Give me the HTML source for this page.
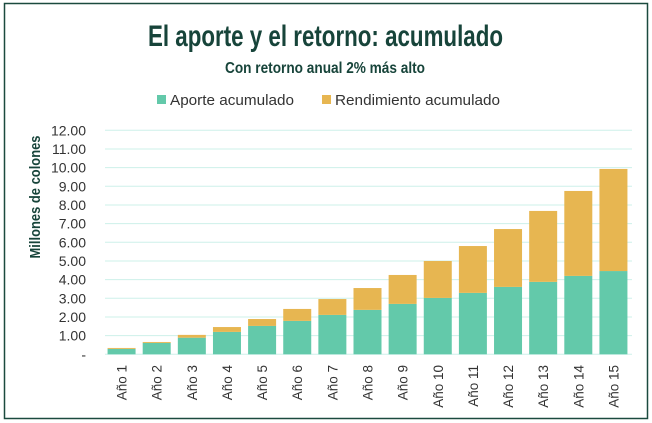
<!DOCTYPE html>
<html><head><meta charset="utf-8"><style>
html,body{margin:0;padding:0;background:#fff;}
svg{display:block;font-family:"Liberation Sans",sans-serif;}
</style></head><body>
<svg id="chart" width="652" height="423">
<rect x="4.5" y="3.5" width="643" height="415" fill="#fff" stroke="#1b4a3f" stroke-width="1.5"/>
<text x="148" y="46" textLength="355" lengthAdjust="spacingAndGlyphs" font-weight="bold" font-size="30" fill="#17443a">El aporte y el retorno: acumulado</text>
<text x="225" y="73" textLength="200" lengthAdjust="spacingAndGlyphs" font-weight="bold" font-size="16" fill="#17443a">Con retorno anual 2% más alto</text>
<g>
<rect x="157" y="95" width="9" height="9" fill="#63c9aa"/>
<text x="170" y="105" textLength="124" lengthAdjust="spacingAndGlyphs" font-size="15" fill="#333">Aporte acumulado</text>
<rect x="322" y="95" width="9" height="9" fill="#e7b651"/>
<text x="335" y="105" textLength="165" lengthAdjust="spacingAndGlyphs" font-size="15" fill="#333">Rendimiento acumulado</text>
</g>
<text transform="translate(40,197) rotate(-90)" text-anchor="middle" textLength="123" lengthAdjust="spacingAndGlyphs" font-weight="bold" font-size="15" fill="#17443a">Millones de colones</text>
<g id="grid"></g><g id="bars"></g><g id="ylabels"></g><g id="xlabels"></g>
</svg>
<script>
const categories=["Año 1","Año 2","Año 3","Año 4","Año 5","Año 6","Año 7","Año 8","Año 9","Año 10","Año 11","Año 12","Año 13","Año 14","Año 15"];
const aporte=[0.29,0.61,0.89,1.20,1.52,1.79,2.11,2.38,2.70,3.02,3.29,3.61,3.88,4.20,4.46];
const rendimiento=[0.05,0.05,0.15,0.26,0.37,0.64,0.85,1.17,1.55,1.98,2.51,3.10,3.80,4.55,5.47];
const yTicks=[0,1,2,3,4,5,6,7,8,9,10,11,12];
const yTickLabels=["-","1.00","2.00","3.00","4.00","5.00","6.00","7.00","8.00","9.00","10.00","11.00","12.00"];
const NS="http://www.w3.org/2000/svg";
const x0=105,x1=632,yBase=354.3,yTop=130.3,yMax=12;
const y=v=>yBase-(v/yMax)*(yBase-yTop);
const step=(x1-x0)/categories.length;
const bw=28;
const xc=i=>x0+step*(i+0.5)-1;
function mk(tag,attrs,parent){const e=document.createElementNS(NS,tag);for(const k in attrs)e.setAttribute(k,attrs[k]);document.getElementById(parent).appendChild(e);return e;}
yTicks.forEach((t,i)=>{
 const l=mk('line',{x1:x0,x2:x1,y1:y(t),y2:y(t),stroke:'#cdf0ea','stroke-width':1},'grid');
 
 
 const tx=mk('text',{x:86,y:y(t)+5,'text-anchor':'end','font-size':14,fill:'#333'},'ylabels');
 tx.textContent=yTickLabels[i];
 
 
});
categories.forEach((c,i)=>{
 const g=mk('rect',{x:xc(i)-bw/2,y:y(aporte[i]),width:bw,height:y(0)-y(aporte[i]),fill:'#63c9aa'},'bars');
 
 
 const tot=aporte[i]+rendimiento[i];
 const r=mk('rect',{x:xc(i)-bw/2,y:y(tot),width:bw,height:y(aporte[i])-y(tot),fill:'#e7b651'},'bars');
 
 
 const t=mk('text',{transform:`translate(${xc(i)+5},365) rotate(-90)`,'text-anchor':'end','font-size':13.5,fill:'#333'},'xlabels');
 t.textContent=c;
 
 
});
</script>
</body></html>
